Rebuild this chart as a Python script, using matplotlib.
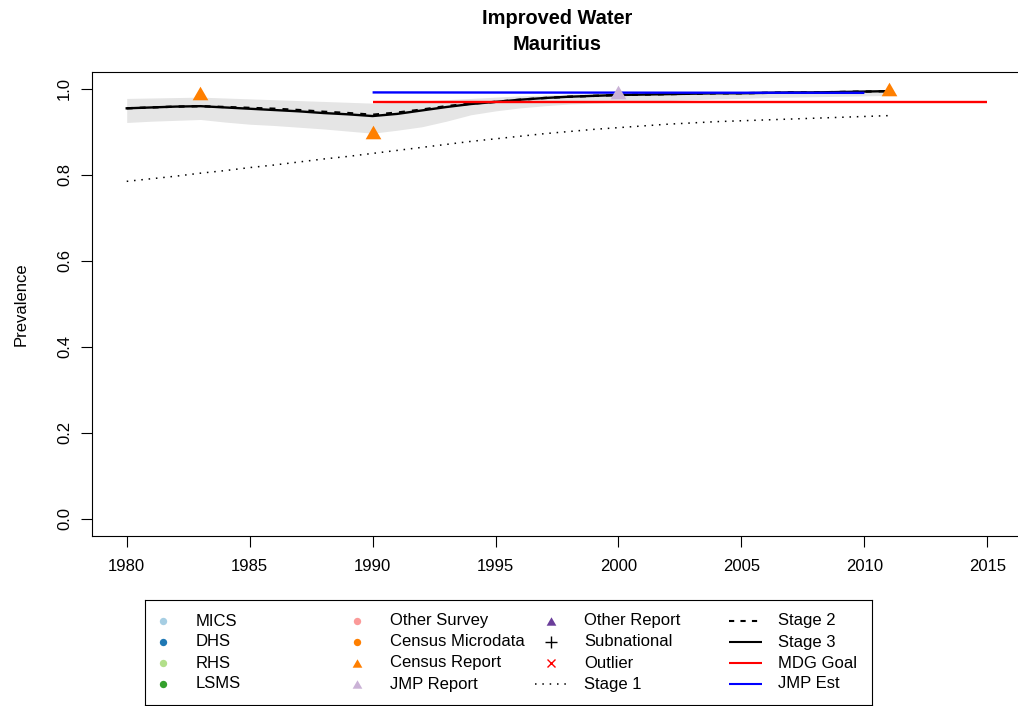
import matplotlib
matplotlib.use("Agg")
import matplotlib.pyplot as plt
from matplotlib.markers import MarkerStyle

plt.rcParams['font.family'] = ['Liberation Sans', 'DejaVu Sans']

# ---- data -------------------------------------------------------------
years = list(range(1980, 2012))

stage1 = [0.785, 0.791, 0.797, 0.804, 0.810, 0.817, 0.823, 0.830, 0.837, 0.843,
          0.850, 0.857, 0.864, 0.871, 0.878, 0.884, 0.890, 0.896, 0.901, 0.906,
          0.910, 0.914, 0.918, 0.921, 0.924, 0.926, 0.928, 0.930, 0.932, 0.934,
          0.936, 0.938]

stage2 = [0.955, 0.957, 0.959, 0.960, 0.958, 0.956, 0.954, 0.951, 0.947, 0.944,
          0.940, 0.945, 0.952, 0.960, 0.966, 0.970, 0.975, 0.979, 0.982, 0.984,
          0.986, 0.987, 0.988, 0.989, 0.990, 0.990, 0.991, 0.992, 0.992, 0.993,
          0.994, 0.995]

stage3 = [0.955, 0.957, 0.959, 0.960, 0.957, 0.954, 0.951, 0.948, 0.944, 0.941,
          0.937, 0.942, 0.950, 0.958, 0.965, 0.970, 0.975, 0.979, 0.982, 0.984,
          0.986, 0.987, 0.988, 0.989, 0.990, 0.990, 0.991, 0.992, 0.992, 0.993,
          0.994, 0.995]

band_lo = [0.922, 0.925, 0.927, 0.929, 0.923, 0.918, 0.915, 0.911, 0.907, 0.902,
           0.897, 0.904, 0.912, 0.925, 0.940, 0.949, 0.956, 0.961, 0.965, 0.967,
           0.969, 0.971, 0.973, 0.975, 0.977, 0.978, 0.980, 0.981, 0.982, 0.983,
           0.984, 0.985]

band_hi = [0.978, 0.979, 0.980, 0.981, 0.979, 0.977, 0.975, 0.973, 0.971, 0.969,
           0.967, 0.969, 0.972, 0.975, 0.978, 0.981, 0.984, 0.986, 0.988, 0.989,
           0.990, 0.991, 0.992, 0.993, 0.993, 0.994, 0.995, 0.995, 0.996, 0.996,
           0.997, 0.997]

census_report_years = [1983, 1990, 2011]
census_report_vals = [0.991, 0.901, 1.000]

jmp_report_years = [2000]
jmp_report_vals = [0.994]

mdg_years = [1990, 2015]
mdg_vals = [0.970, 0.970]

jmp_est_years = [1990, 2010]
jmp_est_vals = [0.992, 0.991]

x_ticks = [1980, 1985, 1990, 1995, 2000, 2005, 2010, 2015]
y_ticks = [0.0, 0.2, 0.4, 0.6, 0.8, 1.0]
y_ticklabels = ["0.0", "0.2", "0.4", "0.6", "0.8", "1.0"]

legend_cols = [
    ["MICS", "DHS", "RHS", "LSMS"],
    ["Other Survey", "Census Microdata", "Census Report", "JMP Report"],
    ["Other Report", "Subnational", "Outlier", "Stage 1"],
    ["Stage 2", "Stage 3", "MDG Goal", "JMP Est"],
]

# ---- styles -----------------------------------------------------------
ORANGE = "#FF7F00"
LILAC = "#CAB2D6"
BAND = "#E5E5E5"
DOTTED = (0, (1, 3.8))
DASHED = (0, (2.5, 3.0))
LW = 1.7
tri = MarkerStyle([(0, 0.866), (-1, -0.866), (1, -0.866), (0, 0.866)])

fig = plt.figure(figsize=(10.18, 7.06), dpi=100)
W, H = 1018.0, 706.0
ax = fig.add_axes([92.3 / W, (H - 535.7) / H, 929.4 / W, 463.9 / H])
ax.set_xlim(1978.6, 2016.4)
ax.set_ylim(-0.04, 1.04)

ax.fill_between(years, band_lo, band_hi, color=BAND, lw=0, zorder=1)
ax.plot(years, stage1, color="black", lw=1.1, ls=DOTTED, zorder=2)
ax.plot(years, stage2, color="black", lw=LW, ls=DASHED, zorder=3)
ax.plot(years, stage3, color="black", lw=LW, zorder=3)
ax.plot(mdg_years, mdg_vals, color="red", lw=LW, zorder=4, solid_capstyle="butt")
ax.plot(jmp_est_years, jmp_est_vals, color="blue", lw=LW, zorder=4, solid_capstyle="butt")
ax.plot(census_report_years, census_report_vals, ls="none", marker=tri, ms=11.3,
        color=ORANGE, mec="none", zorder=5)
ax.plot(jmp_report_years, jmp_report_vals, ls="none", marker=tri, ms=11.3,
        color=LILAC, mec="none", zorder=5)

ax.set_xticks(x_ticks)
ax.set_xticklabels([str(t) for t in x_ticks])
ax.set_yticks(y_ticks)
ax.set_yticklabels(y_ticklabels, rotation=90, va="center")
ax.tick_params(axis="both", direction="out", length=7.7, width=0.8, labelsize=12)
ax.tick_params(axis="x", pad=9)
ax.tick_params(axis="y", pad=7)
for s in ax.spines.values():
    s.set_linewidth(0.8)
ax.set_ylabel("Prevalence", fontsize=12)
ax.yaxis.set_label_coords((28.5 - 92.3) / 929.4, 0.5)

cx = (92.3 + 1021.7) / 2 / W
fig.text(cx, (H - 24.5) / H, "Improved Water", ha="center", va="baseline",
         fontsize=14.4, fontweight="bold")
fig.text(cx, (H - 50.5) / H, "Mauritius", ha="center", va="baseline",
         fontsize=14.4, fontweight="bold")

# ---- legend box -------------------------------------------------------
leg = fig.add_axes([145 / W, 1 / H, 727 / W, 105 / H])
leg.set_xlim(145, 872)
leg.set_ylim(705, 600)
leg.set_xticks([])
leg.set_yticks([])
for s in leg.spines.values():
    s.set_linewidth(0.8)
    s.set_color("black")

row_y = [621, 642, 663, 684]
sym_x = [163, 357, 551, 745]
txt_x = [196, 390, 584, 778]

legend_styles = [
    [dict(marker="o", color="#A6CEE3"), dict(marker="o", color="#1F78B4"),
     dict(marker="o", color="#B2DF8A"), dict(marker="o", color="#33A02C")],
    [dict(marker="o", color="#FB9A99"), dict(marker="o", color=ORANGE),
     dict(marker=tri, color=ORANGE), dict(marker=tri, color=LILAC)],
    [dict(marker=tri, color="#6A3D9A"), dict(marker="+", color="black"),
     dict(marker="x", color="red"), dict(line=DOTTED, color="black", lw=1.1)],
    [dict(line=DASHED, color="black", lw=1.5), dict(line="-", color="black", lw=1.5),
     dict(line="-", color="red", lw=1.5), dict(line="-", color="blue", lw=1.5)],
]
marker_sizes = {"o": 5.3, "+": 8.5, "x": 6.0}

for ci, (labels, styles) in enumerate(zip(legend_cols, legend_styles)):
    for ri, (lab, st) in enumerate(zip(labels, styles)):
        y = row_y[ri]
        xs = sym_x[ci]
        if "line" in st:
            leg.plot([xs - 16, xs + 17], [y, y], color=st["color"], lw=st["lw"],
                     ls=st["line"], solid_capstyle="butt")
        else:
            m = st["marker"]
            ms = marker_sizes.get(m, 7.0) if isinstance(m, str) else 7.0
            leg.plot([xs], [y], ls="none", marker=m, ms=ms, color=st["color"],
                     mec=st["color"] if m in ("+", "x") else "none", mew=1.0)
        leg.text(txt_x[ci], y, lab, ha="left", va="center", fontsize=12)

fig.savefig("out.png", dpi=100)
